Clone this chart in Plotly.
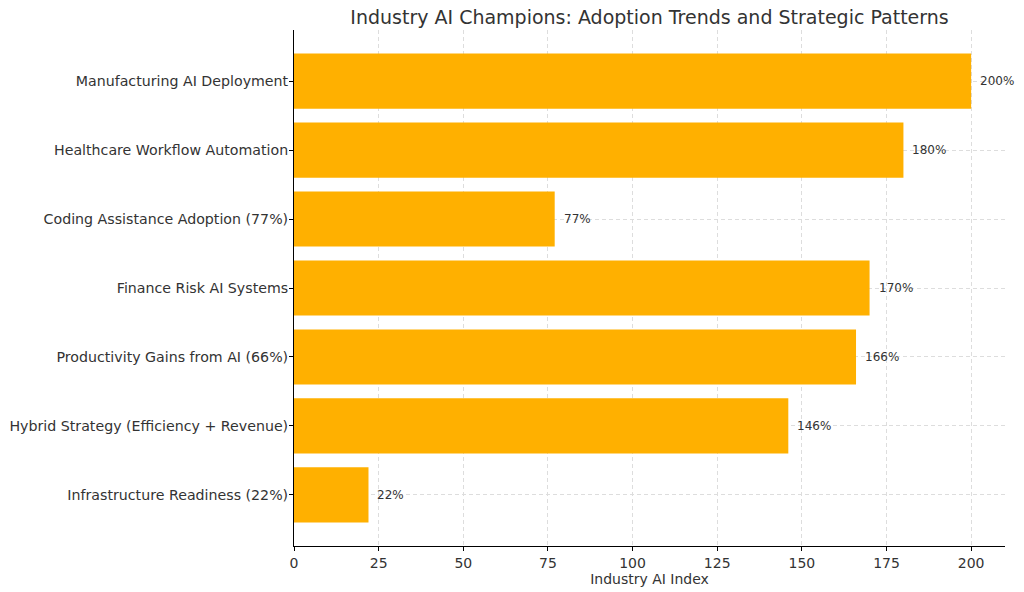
import plotly.graph_objects as go

categories = [
    "Manufacturing AI Deployment",
    "Healthcare Workflow Automation",
    "Coding Assistance Adoption (77%)",
    "Finance Risk AI Systems",
    "Productivity Gains from AI (66%)",
    "Hybrid Strategy (Efficiency + Revenue)",
    "Infrastructure Readiness (22%)",
]
values = [200, 180, 77, 170, 166, 146, 22]
value_labels = ["200%", "180%", "77%", "170%", "166%", "146%", "22%"]
x_ticks = [0, 25, 50, 75, 100, 125, 150, 175, 200]

n = len(categories)
ypos = [n - 1 - i for i in range(n)]

L, R, T, B = 294, 1024 - 1005, 30, 592 - 546

FONT = "DejaVu Sans"
fig = go.Figure()
fig.add_trace(go.Bar(
    x=values, y=ypos, orientation="h", width=0.8,
    marker=dict(color="#FFB000", line=dict(width=0)),
    hoverinfo="skip", cliponaxis=False,
))
for v, yp, lab in zip(values, ypos, value_labels):
    fig.add_annotation(x=v, y=yp, text=lab, showarrow=False, xanchor="left",
                       xshift=7, font=dict(family=FONT, size=12, color="#333333"))

fig.update_layout(
    width=1024, height=592,
    margin=dict(l=L, r=R, t=T, b=B, autoexpand=False),
    plot_bgcolor="white", paper_bgcolor="white",
    showlegend=False,
    title=dict(text="Industry AI Champions: Adoption Trends and Strategic Patterns",
               x=((294 + 1005) / 2) / 1024, xref="container", xanchor="center",
               y=1 - 17 / 592, yanchor="middle", yref="container",
               font=dict(family=FONT, size=19, color="#333333")),
    xaxis=dict(range=[0, 210], tickvals=x_ticks, ticks="outside", ticklen=4,
               tickcolor="black", showline=True, linecolor="black", linewidth=1,
               showgrid=True, gridcolor="#dddddd", griddash="4px,3px", gridwidth=1,
               zeroline=False, automargin=False,
               tickfont=dict(family=FONT, size=14, color="#333333"),
               title=dict(text="Industry AI Index", standoff=2,
                          font=dict(family=FONT, size=14, color="#333333"))),
    yaxis=dict(range=[-0.74, 6.74], tickvals=ypos, ticktext=categories,
               ticks="outside", ticklen=4, tickcolor="black",
               showline=True, linecolor="black", linewidth=1,
               showgrid=True, gridcolor="#dddddd", griddash="4px,3px", gridwidth=1,
               zeroline=False, automargin=False, ticklabelstandoff=-2,
               tickfont=dict(family=FONT, size=14.2, color="#333333")),
)
fig.write_html("out.html", config={"displayModeBar": False},
               post_script="document.body.style.margin='0';")
